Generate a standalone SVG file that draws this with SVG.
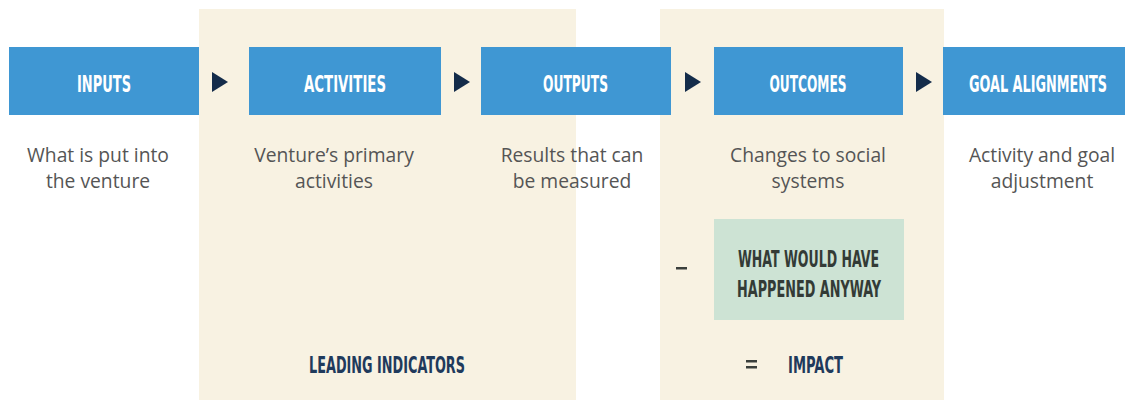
<svg xmlns="http://www.w3.org/2000/svg" width="1125" height="400" viewBox="0 0 1125 400">
<style>
.panel{fill:#f8f2e2}
.box{fill:#3f97d3}
.arr{fill:#142c4a}
.hd{font-family:"DejaVu Sans Condensed","DejaVu Sans",sans-serif;font-weight:bold;font-size:23px;fill:#ffffff;text-anchor:middle}
.dk{font-family:"DejaVu Sans Condensed","DejaVu Sans",sans-serif;font-weight:bold;font-size:23px;text-anchor:middle}
.body{font-family:"Open Sans","Liberation Sans",sans-serif;font-size:19.3px;fill:#555555;text-anchor:middle}
.navy{fill:#1f3a5c}
.grey{fill:#333b36}
</style>
<rect width="1125" height="400" fill="#ffffff"/>
<g id="panels">
<rect class="panel" x="199" y="9" width="377" height="391"/>
<rect class="panel" x="660" y="9" width="284" height="391"/>
</g>
<g id="connectors">
<polygon class="arr" points="212,72 228,82 212,92"/>
<polygon class="arr" points="454,72 470,82 454,92"/>
<polygon class="arr" points="685,72 701,82 685,92"/>
<polygon class="arr" points="916,72 932,82 916,92"/>
</g>
<g id="inputs">
<rect class="box" x="9" y="47" width="190" height="68"/>
<text class="hd" x="104" y="92" textLength="54" lengthAdjust="spacingAndGlyphs">INPUTS</text>
<text class="body" x="98" y="162">What is put into</text>
<text class="body" x="98" y="188">the venture</text>
</g>
<g id="activities">
<rect class="box" x="249" y="47" width="192" height="68"/>
<text class="hd" x="345" y="92" textLength="82" lengthAdjust="spacingAndGlyphs">ACTIVITIES</text>
<text class="body" x="334" y="162">Venture’s primary</text>
<text class="body" x="334" y="188">activities</text>
</g>
<g id="outputs">
<rect class="box" x="481" y="47" width="190" height="68"/>
<text class="hd" x="575.5" y="92" textLength="65" lengthAdjust="spacingAndGlyphs">OUTPUTS</text>
<text class="body" x="572" y="162">Results that can</text>
<text class="body" x="572" y="188">be measured</text>
</g>
<g id="outcomes">
<rect class="box" x="714" y="47" width="189" height="68"/>
<text class="hd" x="808" y="92" textLength="77" lengthAdjust="spacingAndGlyphs">OUTCOMES</text>
<text class="body" x="808" y="162">Changes to social</text>
<text class="body" x="808" y="188">systems</text>
</g>
<g id="goal-alignments">
<rect class="box" x="943" y="47" width="182" height="68"/>
<text class="hd" x="1038" y="92" textLength="138" lengthAdjust="spacingAndGlyphs">GOAL ALIGNMENTS</text>
<text class="body" x="1042" y="162">Activity and goal</text>
<text class="body" x="1042" y="188">adjustment</text>
</g>
<g id="counterfactual">
<rect x="714" y="219" width="190" height="101" fill="#cde3d4"/>
<text class="dk grey" x="808.5" y="267" textLength="141" lengthAdjust="spacingAndGlyphs">WHAT WOULD HAVE</text>
<text class="dk grey" x="809" y="297" textLength="144" lengthAdjust="spacingAndGlyphs">HAPPENED ANYWAY</text>
<rect x="676" y="267" width="11" height="2.5" fill="#3a3f3c"/>
</g>
<g id="impact">
<rect x="746" y="360" width="11" height="2.5" fill="#3a3f3c"/>
<rect x="746" y="366" width="11" height="2.5" fill="#3a3f3c"/>
<text class="dk navy" x="815.5" y="373" textLength="55" lengthAdjust="spacingAndGlyphs">IMPACT</text>
</g>
<g id="leading-indicators">
<text class="dk navy" x="387" y="373" textLength="156" lengthAdjust="spacingAndGlyphs">LEADING INDICATORS</text>
</g>
</svg>
